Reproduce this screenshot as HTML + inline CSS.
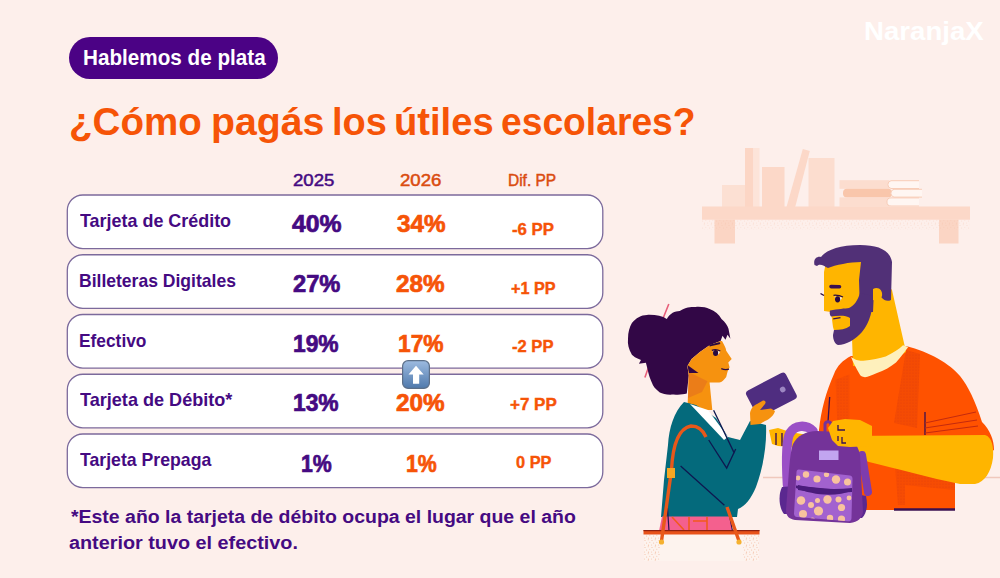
<!DOCTYPE html>
<html><head><meta charset="utf-8">
<style>
*{margin:0;padding:0;box-sizing:border-box}
html,body{width:1000px;height:578px;overflow:hidden}
body{background:#FDEFEB;font-family:"Liberation Sans",sans-serif;position:relative;font-weight:700}
.abs{position:absolute}
.t{position:absolute;white-space:nowrap;transform-origin:0 0}
#pillbg{position:absolute;left:69px;top:37px;width:209px;height:42px;border-radius:21px;background:#4B0285}
.row{position:absolute;left:66.25px;width:537.5px;height:55.1px;border:1.5px solid #8C6CB4;border-radius:15px;background:#fff}
</style></head><body>
<div id="pillbg"></div>
<svg class="abs" style="left:0;top:0" width="620" height="500"><rect x="67.3" y="195.00" width="535.5" height="53.6" rx="15.5" fill="#fff" stroke="#7C6A9C" stroke-width="1.3"/><rect x="67.3" y="254.75" width="535.5" height="53.6" rx="15.5" fill="#fff" stroke="#7C6A9C" stroke-width="1.3"/><rect x="67.3" y="314.50" width="535.5" height="53.6" rx="15.5" fill="#fff" stroke="#7C6A9C" stroke-width="1.3"/><rect x="67.3" y="374.25" width="535.5" height="53.6" rx="15.5" fill="#fff" stroke="#7C6A9C" stroke-width="1.3"/><rect x="67.3" y="434.00" width="535.5" height="53.6" rx="15.5" fill="#fff" stroke="#7C6A9C" stroke-width="1.3"/></svg>
<svg class="abs" style="left:0;top:0" width="1000" height="578" viewBox="0 0 1000 578">
<defs>
<pattern id="stip" width="3" height="3" patternUnits="userSpaceOnUse"><circle cx="1" cy="1" r="0.6" fill="#D9360A" opacity="0.55"/></pattern>
<pattern id="stip2" width="7" height="7" patternUnits="userSpaceOnUse"><g fill="#F0B090" opacity="0.75"><circle cx="1" cy="1.5" r="0.6"/><circle cx="4.2" cy="0.7" r="0.55"/><circle cx="2.6" cy="4" r="0.6"/><circle cx="5.8" cy="3.3" r="0.5"/><circle cx="0.6" cy="6" r="0.5"/><circle cx="4.5" cy="6.2" r="0.6"/></g></pattern>
</defs>
<!-- shelf -->
<g id="shelf">
<rect x="722" y="185" width="23" height="22" fill="#FCE0D3"/>
<rect x="745" y="148" width="8.5" height="59" fill="#FCD6C5"/>
<rect x="753.5" y="148" width="6" height="59" fill="#FDE4D9"/>
<rect x="762" y="167" width="22.5" height="40" fill="#FCD8C8"/>
<polygon points="786.5,207 802.8,149 809.8,151 795.2,207" fill="#FCD8C8"/>
<rect x="808.5" y="158" width="26" height="49" fill="#FCDDCF"/>
<rect x="839.5" y="180.2" width="50" height="8.6" fill="#FCDDCF"/>
<rect x="843" y="188.8" width="49" height="8.6" rx="4" fill="#F9C6AB"/>
<rect x="839.5" y="197.4" width="50" height="9.3" fill="#FCDDCF"/>
<path d="M919,180.7 L891,180.7 A4,4 0 0 0 891,188.5 L919,188.5" fill="#FFF6F2" stroke="#F8CDB8" stroke-width="1"/>
<path d="M922,189.3 L894,189.3 A4,4 0 0 0 894,197.1 L922,197.1" fill="#FFF6F2" stroke="#F8CDB8" stroke-width="1"/>
<path d="M919,197.9 L891,197.9 A4,4 0 0 0 891,206 L919,206" fill="#FFF6F2" stroke="#F8CDB8" stroke-width="1"/>
<rect x="702" y="206.5" width="268" height="13.2" fill="#FCD8C8"/>
<rect x="714.5" y="219.5" width="20.5" height="24" fill="#FBD5C4"/>
<rect x="939" y="219.5" width="19.5" height="24" fill="#FBD5C4"/>
<rect x="702" y="219.5" width="268" height="10" fill="url(#stip2)" opacity="0.35"/>
</g>
<!-- horizon line -->
<line x1="763" y1="477.5" x2="1000" y2="477.5" stroke="#F0C8BC" stroke-width="1.5"/>

<g id="man">
<!-- shirt -->
<path d="M851,356 C843,360 837,366 834,374 C826,392 821,410 819,430 L817,505 L830,510 L955,510 L955,470 L994,450 C994,440 990,430 982,422 C975,400 968,386 960,376 C950,364 930,352 906,346 C890,350 870,356 851,356 Z" fill="#FF5200"/>
<!-- stipple bands -->
<path d="M906,350 L920,354 L917,428 L894,423 Z" fill="#E0400A" opacity="0.35"/><path d="M906,350 L920,354 L917,428 L894,423 Z" fill="url(#stip)"/>
<path d="M835.6,379.8 L849.4,374.6 L849.4,421 L837.3,421.3 Z" fill="#E0400A" opacity="0.25"/><path d="M835.6,379.8 L849.4,374.6 L849.4,421 L837.3,421.3 Z" fill="url(#stip)"/>
<path d="M895,465 L955,478 L955,490 L905,485 L905,505 L898,505 Z" fill="#E0400A" opacity="0.3"/><path d="M895,465 L955,478 L955,490 L905,485 L905,505 L898,505 Z" fill="url(#stip)"/>
<!-- neck/head skin -->
<path d="M826,262 L862,256 L892,290 L904,343 L906,352 L880,368 L853,366 L852,338 L838,344 L833,327 L831,312 L824,311 L824,272 Z" fill="#FFB500"/>
<!-- collar -->
<path d="M851,357 C856,360 858,361 863.3,360.8 C872,360 880,358 885.7,356.4 C893,353 899,349 903,345.2 L908.2,347 C904,353 900,358 896,362.5 C890,367 884,371 877,372.9 C872,375 868,377 865,377.2 C862,377 860.5,376 859.8,374.6 C856,368 853,362 851,357 Z" fill="#FEF0BC"/>
<!-- hair -->
<path d="M814.5,265 C813,259 817,256 821,257 C826,250 840,245 860,245 C878,245 890,250 892,262 L891,300 C887,302 884,300 882,298 L874,290 L873,312 L860,312 L859,280 L861,262 C850,262 835,265 828,268 C824,266 820,263 817,266 Z" fill="#513077"/>
<!-- ear -->
<path d="M873,289 C878,286 883,290 882,296 C881,300 877,302 873,300 Z" fill="#FFB500"/>
<!-- beard -->
<path d="M830,310.5 C838,309 845,308.5 849,308 C854,306 858,300 860,293 L873,296 C873,310 870,322 862,332 C856,339 846,345 838,345 C835,344 833,340 833,335 L834,330 C840,330 846,329 850,326 L850,318 C846,315 838,315.5 831,316.5 C829.5,315 829.5,312 830,310.5 Z" fill="#513077"/>
<!-- face details -->
<path d="M820.5,293.5 L824,295.5" stroke="#2A0A40" stroke-width="1.4"/>
<path d="M831,286.6 L839.5,286.8" stroke="#3A1050" stroke-width="3.6" stroke-linecap="round"/>
<path d="M834.5,296.5 C836,302 840,303 842,297.5 Z" fill="#FFFFFF"/>
<ellipse cx="837.6" cy="299.3" rx="2.6" ry="3.1" fill="#2A0A40"/>
<path d="M833.5,295.3 C837,295 840,295.5 843,297" stroke="#2A0A40" stroke-width="1.3" fill="none"/>
<path d="M833.2,318.8 L840.5,317.6" stroke="#3A1050" stroke-width="1.3"/>
<!-- arm -->
<path d="M843,436 L985,435 C992,437 994,447 993,458 C991,472 985,482 975,484 L960,484 C930,478 895,468 869,462 L850,455 Z" fill="#FFB500"/>
<!-- lines -->
<path d="M829.7,397 L828,422" stroke="#3A1050" stroke-width="1.3"/>
<path d="M925,412 L925,435" stroke="#3A1050" stroke-width="1.3"/>
<path d="M925,423 L976,412 M925,428 L977,420 M925,433 L978,426" stroke="#C42A0E" stroke-width="1"/>
<path d="M894,509.5 L955,509.5" stroke="#3A1050" stroke-width="2.5"/>
</g>

<g id="bp">
<!-- left yellow hand -->
<path d="M769,430 L778,428 L790,432 L808,435 L808,451 L790,447 L778,446 L772,444 Z" fill="#FFB500"/>
<path d="M776,433 L776,445 M782,433 L782,446" stroke="#3A1050" stroke-width="1.4"/>
<!-- straps -->
<path d="M787.5,485 C786,460 786,440 790,433 C795,425 806,424 813,431" fill="none" stroke="#9A50C6" stroke-width="9.5" stroke-linecap="round"/>
<path d="M862,455 L868,492" stroke="#7E3CAE" stroke-width="8" stroke-linecap="round"/>
<!-- side pockets -->
<path d="M782,487 C778,495 779,508 784,514 L795,514 L795,486 Z" fill="#5B2890"/>
<path d="M856,494 L866,496 C868,505 867,513 862,518 L856,518 Z" fill="#5B2890"/>
<!-- body -->
<path d="M793,444 C797,436 806,431 817,431 L838,432 C850,434 857,442 860,455 L863,512 C862,518 858,522 850,523 L795,520 C789,519 786,516 786,510 L789,470 C790,458 791,450 793,444 Z" fill="#743399"/>
<!-- handle -->
<path d="M825,432 L825,424 C826,421 830,421 831,424 L831,432" fill="none" stroke="#743399" stroke-width="3"/>
<!-- label -->
<rect x="819" y="450.5" width="19.5" height="9.5" fill="#C2A5F0"/>
<!-- front pocket -->
<clipPath id="pk"><path d="M799,469.5 L850,475.5 C852,476 852.5,477 852.5,479 L851.5,518 C851.5,520.5 850,521.5 847.5,521.3 L797,517 C795,516.8 794,515.5 794,513.5 L796.5,472 C796.6,470.3 797.5,469.3 799,469.5 Z"/></clipPath>
<g clip-path="url(#pk)">
<rect x="790" y="465" width="66" height="60" fill="#A262CF"/>
<g fill="#F8C39E">
<circle cx="806" cy="474.5" r="3.2"/><circle cx="817" cy="479" r="3.6"/><circle cx="826.5" cy="474.5" r="2.6"/><circle cx="836" cy="479.5" r="4.2"/><circle cx="847.5" cy="482" r="3.5"/><circle cx="798" cy="478" r="2.4"/>
<circle cx="801" cy="500.5" r="4.3"/><circle cx="811" cy="505" r="3"/><circle cx="817.5" cy="500.5" r="2.5"/><circle cx="827.5" cy="499.5" r="4.2"/><circle cx="838.5" cy="499.5" r="3"/><circle cx="841.5" cy="507.5" r="3.6"/><circle cx="849" cy="498" r="2.4"/>
<circle cx="818.5" cy="511" r="4.6"/><circle cx="803" cy="514" r="4"/><circle cx="830" cy="518" r="3.2"/><circle cx="841.5" cy="519" r="3.6"/><circle cx="812.5" cy="520" r="2.6"/>
</g>
<path d="M796,485.5 C815,487.5 835,490 853,490.5 C835,497.5 812,495 796,488 Z" fill="#4A1C7A"/>
</g>
<path d="M798,485 C815,489 835,490 852,488 L852,492 C835,493 815,493 798,490 Z" fill="#4B1C7C"/>
<!-- man hand -->
<path d="M828,428 L833,421 L845,419 L860,420 L872,426 L872,446 L850,447 L838,446 L832,440 Z" fill="#FFB500"/>
<path d="M838,425 L838,430 L845,430 M838,436 L838,441 M842,437 L842,443 L846,443" fill="none" stroke="#3A1050" stroke-width="1.3"/>
</g>

<g id="girl">
<!-- pink sticks -->
<path d="M662.8,319 L668.8,304 M650.8,360.7 L644.9,377.6" stroke="#E8607A" stroke-width="1.6"/>
<!-- hair -->
<path d="M646.9,314.9 C655,314.5 662,316 666.8,318.9 C670,313 675,311 679.7,310.9 C686,307 690,307 695.6,306.9 C702,306.5 706,307.5 709.6,308.9 C715,311 719,314 721.5,318.9 C725,322 727.5,325 728.5,328.8 L730.4,338.8 L727.5,334.8 L725.5,339.8 L722.5,335.8 L720.6,341 L709.6,345.2 L699.9,352.1 L691.6,359 L687.4,366 L688.8,375.6 L686.8,393.6 C683,394.5 679,395 673.7,394.5 C667,395 663,394 659.8,392.5 C655,389 653,386 651.8,382.6 C649.5,377 648.5,374 647.9,370.6 L645.9,362.7 L638.9,363.7 L641,360 C636,358 633,356 631.9,354.7 C628.5,349 627.5,344 628,338.8 C628,332 629.5,327 631.9,322.9 C636,318 641,315 646.9,314.9 Z" fill="#320746"/>
<!-- face + neck -->
<path d="M687.4,366 L691.6,359 L699.9,352.1 L709.6,345.2 L720.6,341 L722,341 C724,345 726,348 726.2,350.7 L731.7,359 L728.3,362.5 L729.6,367.3 L727.6,371.5 L726.2,377 C724,380 722,382 719.3,382.6 L709.6,382.6 L712.3,410 L687.4,410 L688.8,375.6 Z" fill="#F6920F"/>
<path d="M688.8,372 L707.5,381.2 L702,392 L688,398 Z" fill="#E8781A" opacity="0.8"/>
<path d="M687.4,365 L698.5,372.9 L689,373 Z" fill="#320746"/>
<!-- eye -->
<path d="M712.5,350.5 C714,356 718,357 720,351.5 Z" fill="#FFFFFF"/>
<ellipse cx="715.6" cy="353" rx="2.6" ry="2.9" fill="#2A0A40"/>
<path d="M711.8,350.3 C714.5,349.2 717.5,349.3 720.3,351" stroke="#2A0A40" stroke-width="1.3" fill="none"/>
<path d="M710.3,345.4 L719.3,343.3" stroke="#2A0A40" stroke-width="2" stroke-linecap="round"/>
<path d="M721.3,368.7 C724,369.8 726.5,369.8 729,369.2" stroke="#2A0A40" stroke-width="1.3" fill="none"/>
<!-- jacket -->
<path d="M684,402 L696,405 L716,418 L728,437 L740,440 L750,421 L766,425 C767,445 763,468 756,487 C751,499 745,506 738,509 L737,517 L661,517 L664,480 L668,445 C669,428 674,412 684,402 Z" fill="#046A7C"/>
<path d="M690,404 L708,410 L728,437 L724,440 Z" fill="#FFFFFF"/>
<path d="M713.6,410.2 L734.4,453.4 M680.6,465.9 L724.4,505.2 M708.7,440 L726.7,468.1 L735.7,449" stroke="#0E1850" stroke-width="1.3" fill="none"/>
<!-- pants -->
<path d="M662,516.5 L731,516.5 L732,531 L659,531 Z" fill="#F4608E"/>
<path d="M672,517 L684,530 M689,517 L689,530 M707,517 L707,530 M693,521 L707,521" stroke="#F25A1E" stroke-width="1.6"/>
<path d="M667.5,508 L669,531 M728,508 L732.5,531" stroke="#2A1050" stroke-width="1.2"/>
<!-- bag -->
<rect x="644" y="534" width="115" height="27" fill="#FDF3EE"/>
<rect x="644" y="534" width="16" height="27" fill="url(#stip2)"/>
<rect x="743" y="534" width="16" height="27" fill="url(#stip2)"/>
<rect x="643.5" y="530" width="116" height="4.5" fill="#E8521A"/>
<rect x="643.5" y="530" width="116" height="1.2" fill="#8C2010"/>
<!-- straps -->
<path d="M661.5,541 L671.5,470 C673,440 680,428 691,426 C698,426 703,430 706,437" fill="none" stroke="#E8581A" stroke-width="3.4"/>
<path d="M739,541 L727,507" stroke="#E8581A" stroke-width="3.4"/>
<rect x="667" y="468" width="8" height="10" fill="#F5A623"/>
<circle cx="661.5" cy="542" r="2.6" fill="#F5B130"/>
<circle cx="739" cy="542" r="2.6" fill="#F5B130"/>
<!-- hand + phone -->
<g transform="translate(771.4,394.8) rotate(-27.5)"><rect x="-22.3" y="-14.7" width="44.6" height="29.4" rx="3.5" fill="#4F2D80"/><circle cx="12.5" cy="0.5" r="2.8" fill="#9C86C2"/></g>
<path d="M750.5,425 L750,413 C751,408 754,405 757,404 L763,400.5 C765,400 766.5,402 765,404 L760,410 L771,408.5 L775,411 C774,415 770,419 765,421 L760,424 Z" fill="#F6920F"/>
</g>

</svg>
<svg class="abs" style="left:402px;top:360px" width="28" height="29" viewBox="0 0 28 29">
<defs><linearGradient id="eg" x1="0" y1="0" x2="0" y2="1"><stop offset="0" stop-color="#9DBBE0"/><stop offset="1" stop-color="#4F79AC"/></linearGradient></defs>
<rect x="0.6" y="0.6" width="26.8" height="27.8" rx="5.5" fill="url(#eg)" stroke="#5C6F88" stroke-width="1.2"/>
<path d="M6.5,14.4 L14,5.7 L21.7,14.4 L17.2,14.4 L17.2,23.7 L11,23.7 L11,14.4 Z" fill="#fff"/>
</svg>
<div class="t" style="left:82.74px;top:43.75px;font-size:21.5px;font-weight:700;line-height:28px;color:#FFFFFF;transform:scaleX(0.9614);-webkit-text-stroke:0px #FFFFFF">Hablemos de plata</div>
<div class="t" style="left:69.25px;top:96.11px;font-size:39.5px;font-weight:700;line-height:51px;color:#F65407;transform:scaleX(0.9759);-webkit-text-stroke:0px #F65407">¿Cómo</div>
<div class="t" style="left:210.52px;top:96.11px;font-size:39.5px;font-weight:700;line-height:51px;color:#F65407;transform:scaleX(0.9927);-webkit-text-stroke:0px #F65407">pagás</div>
<div class="t" style="left:331.52px;top:96.11px;font-size:39.5px;font-weight:700;line-height:51px;color:#F65407;transform:scaleX(0.9615);-webkit-text-stroke:0px #F65407">los</div>
<div class="t" style="left:394.07px;top:96.11px;font-size:39.5px;font-weight:700;line-height:51px;color:#F65407;transform:scaleX(0.9660);-webkit-text-stroke:0px #F65407">útiles</div>
<div class="t" style="left:501.21px;top:96.11px;font-size:39.5px;font-weight:700;line-height:51px;color:#F65407;transform:scaleX(0.9426);-webkit-text-stroke:0px #F65407">escolares?</div>
<div class="t" style="left:863.73px;top:15.06px;font-size:25.5px;font-weight:700;line-height:33px;color:#FFFFFF;transform:scaleX(1.0833);-webkit-text-stroke:0px #FFFFFF">NaranjaX</div>
<div class="t" style="left:292.59px;top:169.53px;font-size:16.8px;font-weight:400;line-height:22px;color:#450A82;transform:scaleX(1.1083);-webkit-text-stroke:0.5px #450A82">2025</div>
<div class="t" style="left:399.89px;top:169.53px;font-size:16.8px;font-weight:400;line-height:22px;color:#DA4C10;transform:scaleX(1.1083);-webkit-text-stroke:0.5px #DA4C10">2026</div>
<div class="t" style="left:508.46px;top:169.93px;font-size:16.5px;font-weight:400;line-height:21px;color:#DA4C10;transform:scaleX(0.9380);-webkit-text-stroke:0.5px #DA4C10">Dif. PP</div>
<div class="t" style="left:79.60px;top:210.13px;font-size:17.8px;font-weight:700;line-height:23px;color:#450A82;transform:scaleX(1.0081);-webkit-text-stroke:0px #450A82">Tarjeta de Crédito</div>
<div class="t" style="left:79.11px;top:269.93px;font-size:17.8px;font-weight:700;line-height:23px;color:#450A82;transform:scaleX(0.9860);-webkit-text-stroke:0px #450A82">Billeteras Digitales</div>
<div class="t" style="left:79.12px;top:329.93px;font-size:17.8px;font-weight:700;line-height:23px;color:#450A82;transform:scaleX(0.9750);-webkit-text-stroke:0px #450A82">Efectivo</div>
<div class="t" style="left:79.80px;top:389.43px;font-size:17.8px;font-weight:700;line-height:23px;color:#450A82;transform:scaleX(1.0167);-webkit-text-stroke:0px #450A82">Tarjeta de Débito*</div>
<div class="t" style="left:79.80px;top:449.43px;font-size:17.8px;font-weight:700;line-height:23px;color:#450A82;transform:scaleX(0.9939);-webkit-text-stroke:0px #450A82">Tarjeta Prepaga</div>
<div class="t" style="left:291.80px;top:209.36px;font-size:23.2px;font-weight:700;line-height:30px;color:#450A82;transform:scaleX(1.0674);-webkit-text-stroke:0.7px #450A82">40%</div>
<div class="t" style="left:293.00px;top:269.36px;font-size:23.2px;font-weight:700;line-height:30px;color:#450A82;transform:scaleX(1.0217);-webkit-text-stroke:0.7px #450A82">27%</div>
<div class="t" style="left:293.42px;top:329.16px;font-size:23.2px;font-weight:700;line-height:30px;color:#450A82;transform:scaleX(0.9822);-webkit-text-stroke:0.7px #450A82">19%</div>
<div class="t" style="left:293.42px;top:388.16px;font-size:23.2px;font-weight:700;line-height:30px;color:#450A82;transform:scaleX(0.9822);-webkit-text-stroke:0.7px #450A82">13%</div>
<div class="t" style="left:301.18px;top:448.66px;font-size:23.2px;font-weight:700;line-height:30px;color:#450A82;transform:scaleX(0.9187);-webkit-text-stroke:0.7px #450A82">1%</div>
<div class="t" style="left:396.80px;top:209.36px;font-size:23.2px;font-weight:700;line-height:30px;color:#F65407;transform:scaleX(1.0457);-webkit-text-stroke:0.7px #F65407">34%</div>
<div class="t" style="left:396.30px;top:269.36px;font-size:23.2px;font-weight:700;line-height:30px;color:#F65407;transform:scaleX(1.0478);-webkit-text-stroke:0.7px #F65407">28%</div>
<div class="t" style="left:398.02px;top:329.16px;font-size:23.2px;font-weight:700;line-height:30px;color:#F65407;transform:scaleX(0.9822);-webkit-text-stroke:0.7px #F65407">17%</div>
<div class="t" style="left:396.30px;top:388.16px;font-size:23.2px;font-weight:700;line-height:30px;color:#F65407;transform:scaleX(1.0478);-webkit-text-stroke:0.7px #F65407">20%</div>
<div class="t" style="left:405.88px;top:448.66px;font-size:23.2px;font-weight:700;line-height:30px;color:#F65407;transform:scaleX(0.9187);-webkit-text-stroke:0.7px #F65407">1%</div>
<div class="t" style="left:511.90px;top:218.92px;font-size:16.4px;font-weight:700;line-height:21px;color:#F65407;transform:scaleX(1.0244);-webkit-text-stroke:0.4px #F65407">-6 PP</div>
<div class="t" style="left:511.20px;top:277.52px;font-size:16.4px;font-weight:700;line-height:21px;color:#F65407;transform:scaleX(0.9889);-webkit-text-stroke:0.4px #F65407">+1 PP</div>
<div class="t" style="left:512.10px;top:335.82px;font-size:16.4px;font-weight:700;line-height:21px;color:#F65407;transform:scaleX(1.0122);-webkit-text-stroke:0.4px #F65407">-2 PP</div>
<div class="t" style="left:510.10px;top:394.12px;font-size:16.4px;font-weight:700;line-height:21px;color:#F65407;transform:scaleX(1.0378);-webkit-text-stroke:0.4px #F65407">+7 PP</div>
<div class="t" style="left:515.60px;top:452.12px;font-size:16.4px;font-weight:700;line-height:21px;color:#F65407;transform:scaleX(0.9971);-webkit-text-stroke:0.4px #F65407">0 PP</div>
<div class="t" style="left:71.00px;top:505.14px;font-size:18.8px;font-weight:700;line-height:24px;color:#450A82;transform:scaleX(1.0357);-webkit-text-stroke:0px #450A82">*Este año la tarjeta de débito ocupa el lugar que el año</div>
<div class="t" style="left:68.75px;top:530.94px;font-size:18.8px;font-weight:700;line-height:24px;color:#450A82;transform:scaleX(1.0544);-webkit-text-stroke:0px #450A82">anterior tuvo el efectivo.</div>
</body></html>
